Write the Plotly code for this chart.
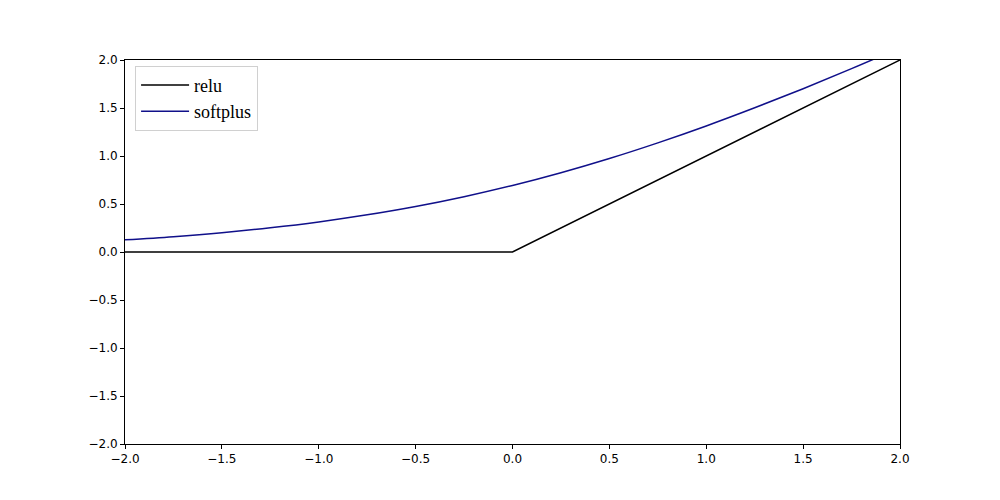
import plotly.graph_objects as go

# relu line
relu_x = [-2.0, -0.01, 0.0, 2.0]
relu_y = [0.0, 0.0, 0.0, 2.0]

# softplus curve
soft_x = [-2.0, -1.75, -1.5, -1.25, -1.0, -0.75, -0.5, -0.25, 0.0,
          0.25, 0.5, 0.75, 1.0, 1.25, 1.5, 1.75, 2.0]
soft_y = [0.127, 0.160, 0.201, 0.252, 0.313, 0.387, 0.474, 0.576, 0.693,
          0.826, 0.974, 1.137, 1.313, 1.502, 1.701, 1.910, 2.127]

tick_vals = [-2.0, -1.5, -1.0, -0.5, 0.0, 0.5, 1.0, 1.5, 2.0]
tick_text = ["\u22122.0", "\u22121.5", "\u22121.0", "\u22120.5", "0.0", "0.5", "1.0", "1.5", "2.0"]

fig = go.Figure()
fig.add_trace(go.Scatter(x=relu_x, y=relu_y, mode="lines", name="relu",
                         line=dict(color="black", width=1.5)))
fig.add_trace(go.Scatter(x=soft_x, y=soft_y, mode="lines", name="softplus",
                         line=dict(color="#10108a", width=1.5, shape="spline")))

axis_common = dict(
    showgrid=False, zeroline=False, showline=True, linecolor="black", linewidth=1,
    mirror=True, ticks="outside", ticklen=4, tickcolor="black", tickwidth=1,
    tickfont=dict(family="DejaVu Sans", size=12, color="black"),
    tickvals=tick_vals, ticktext=tick_text,
)

fig.update_layout(
    width=1000, height=500,
    margin=dict(l=117, r=108, t=52, b=64),
    paper_bgcolor="white", plot_bgcolor="white",
    xaxis=dict(range=[-2, 2], **axis_common),
    yaxis=dict(range=[-2, 2], **axis_common),
    showlegend=True,
    legend=dict(x=0.013, y=0.985, xanchor="left", yanchor="top",
                bgcolor="white", bordercolor="#d0d0d0", borderwidth=1,
                font=dict(family="Liberation Serif", size=18, color="black"),
                itemwidth=48, tracegroupgap=0),
)

fig.write_html("out.html")
